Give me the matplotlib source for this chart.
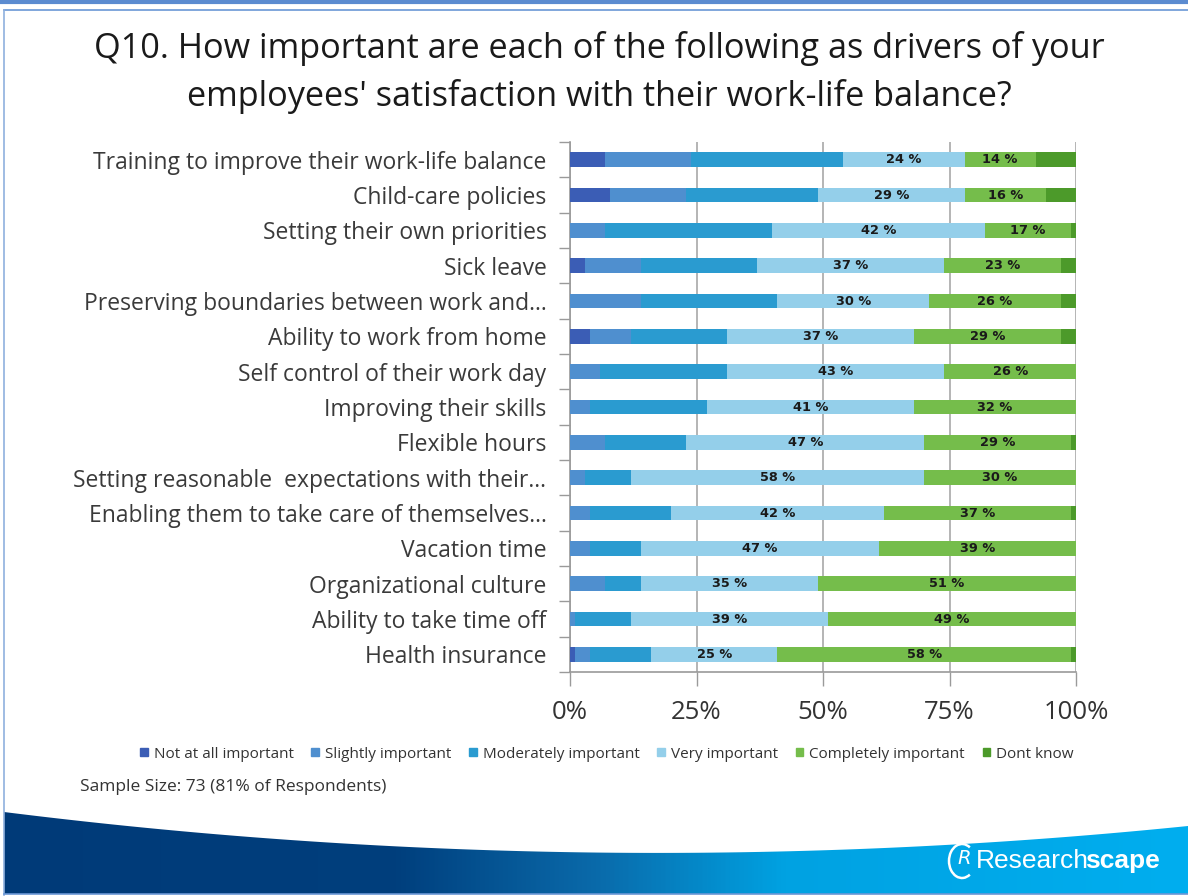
import numpy as np
import matplotlib
matplotlib.use("Agg")
import matplotlib.pyplot as plt
from matplotlib.patches import Polygon, Rectangle, Arc
from matplotlib.lines import Line2D
from matplotlib.colors import LinearSegmentedColormap

plt.rcParams['font.family'] = ['Open Sans', 'DejaVu Sans']

# ---- data -------------------------------------------------------------
categories = [
    "Training to improve their work-life balance",
    "Child-care policies",
    "Setting their own priorities",
    "Sick leave",
    "Preserving boundaries between work and\u2026",
    "Ability to work from home",
    "Self control of their work day",
    "Improving their skills",
    "Flexible hours",
    "Setting reasonable  expectations with their\u2026",
    "Enabling them to take care of themselves\u2026",
    "Vacation time",
    "Organizational culture",
    "Ability to take time off",
    "Health insurance",
]

series_names = ["Not at all important", "Slightly important", "Moderately important",
                "Very important", "Completely important", "Dont know"]

not_at_all  = [7, 8, 0, 3, 0, 4, 0, 0, 0, 0, 0, 0, 0, 0, 1]
slightly    = [17, 15, 7, 11, 14, 8, 6, 4, 7, 3, 4, 4, 7, 1, 3]
moderately  = [30, 26, 33, 23, 27, 19, 25, 23, 16, 9, 16, 10, 7, 11, 12]
very        = [24, 29, 42, 37, 30, 37, 43, 41, 47, 58, 42, 47, 35, 39, 25]
completely  = [14, 16, 17, 23, 26, 29, 26, 32, 29, 30, 37, 39, 51, 49, 58]
dont_know   = [8, 6, 1, 3, 3, 3, 0, 0, 1, 0, 1, 0, 0, 0, 1]

x_ticks = [0, 25, 50, 75, 100]
x_tick_labels = ["0%", "25%", "50%", "75%", "100%"]

colors = ["#3B5DB5", "#4F8FCF", "#2A9BD0", "#94CFEA", "#75BD4B", "#4C9A2A"]
labelled = [3, 4]  # series carrying value labels

W, H = 1188, 896
fig = plt.figure(figsize=(W / 100, H / 100), dpi=100)

# ---- slide decoration (background layer in pixel coordinates) ----------
bg = fig.add_axes([0, 0, 1, 1], zorder=0)
bg.set_xlim(0, W)
bg.set_ylim(H, 0)
bg.axis("off")

# bottom band with curved top edge and navy-to-cyan gradient
xs = np.linspace(4, W, 200)
# parabola through (4, 812), (560, 852), (1188, 826)
A = np.array([[4**2, 4, 1], [560**2, 560, 1], [1188**2, 1188, 1]], float)
coef = np.linalg.solve(A, np.array([812, 852, 826], float))
ys = coef[0] * xs**2 + coef[1] * xs + coef[2]
band_poly = np.vstack([np.column_stack([xs, ys]), [[W, 894], [4, 894]]])
cmap = LinearSegmentedColormap.from_list(
    "band", [(0, "#003A78"), (0.33, "#003F7D"), (0.5, "#0A6AAA"), (0.66, "#00A2E2"), (1, "#00AEEF")])
grad = np.linspace(0, 1, 512)[None, :]
im = bg.imshow(grad, cmap=cmap, extent=[4, W, 894, 800], aspect="auto", zorder=1)
clip = Polygon(band_poly, closed=True, transform=bg.transData, facecolor="none", edgecolor="none")
bg.add_patch(clip)
im.set_clip_path(clip)

# frame lines
bg.add_line(Line2D([0, W], [2.5, 2.5], color="#5B8BD0", lw=3, zorder=3))
bg.add_line(Line2D([4, W], [10, 10], color="#6A97D6", lw=1.2, zorder=3))
bg.add_line(Line2D([4, 4], [10, 895], color="#8FB0DE", lw=1.2, zorder=3))
bg.add_line(Line2D([4, W], [894.5, 894.5], color="#6A97D6", lw=1.2, zorder=3))

# logo
bg.add_patch(Arc((962, 861), 26, 34, theta1=60, theta2=300, color="white", lw=1.8, zorder=4))
bg.text(964, 859, "R", color="white", fontsize=14, ha="center", va="center",
        family="DejaVu Sans", style="italic", zorder=4)
t1 = bg.text(976, 861, "Research", color="white", fontsize=19, ha="left", va="center",
             family="Liberation Sans", zorder=4)
fig.canvas.draw()
bb = t1.get_window_extent()
x_end = bb.x1 - 4
bg.text(x_end, H - 861, "scape", color="white", fontsize=19, ha="left", va="center",
        family="Liberation Sans", weight="bold", transform=None, zorder=4)

# ---- title ------------------------------------------------------------
fig.text(599 / W, 1 - 49 / H, "Q10. How important are each of the following as drivers of your",
         ha="center", va="center", fontsize=24.7, color="#1a1a1a")
fig.text(599 / W, 1 - 97 / H, "employees' satisfaction with their work-life balance?",
         ha="center", va="center", fontsize=24.7, color="#1a1a1a")

# ---- chart ------------------------------------------------------------
ax_left, ax_right, ax_top, ax_bottom = 570, 1076, 142, 672
ax = fig.add_axes([ax_left / W, 1 - ax_bottom / H, (ax_right - ax_left) / W, (ax_bottom - ax_top) / H],
                  zorder=2)
ax.patch.set_alpha(0)

data = [not_at_all, slightly, moderately, very, completely, dont_know]
n = len(categories)
ypos = np.arange(n)
left = np.zeros(n)
for i, (vals, name, col) in enumerate(zip(data, series_names, colors)):
    vals = np.asarray(vals, float)
    ax.barh(ypos, vals, left=left, height=0.42, color=col, label=name, zorder=3)
    if i in labelled:
        for y, l, v in zip(ypos, left, vals):
            ax.text(l + v / 2, y, f"{int(v)} %", ha="center", va="center",
                    fontsize=9.3, weight="bold", color="#1a1a1a", zorder=4,
                    family=["DejaVu Sans Condensed", "DejaVu Sans"])
    left += vals

ax.set_xlim(0, 100)
ax.set_ylim(n - 0.5, -0.5)
ax.set_xticks(x_ticks)
ax.set_xticklabels(x_tick_labels, fontsize=18.5, color="#333333")
ax.tick_params(axis="x", length=10, width=1, color="#9a9a9a", pad=10)
ax.set_yticks(ypos)
ax.set_yticklabels(categories, fontsize=16.5, color="#3a3a3a")
ax.tick_params(axis="y", length=0, pad=17)
ax.set_yticks(np.arange(n + 1) - 0.5, minor=True)
ax.tick_params(axis="y", which="minor", length=8, width=1, color="#9a9a9a")
ax.xaxis.grid(True, color="#a8a8a8", lw=1.2, zorder=0)
for side in ["top", "right"]:
    ax.spines[side].set_visible(False)
for side in ["left", "bottom"]:
    ax.spines[side].set_color("#9a9a9a")
    ax.spines[side].set_linewidth(1.2)

# legend
handles = [Rectangle((0, 0), 1, 1, color=c) for c in colors]
fig.legend(handles, series_names, loc="center", bbox_to_anchor=(607 / W, 1 - 754 / H),
           ncol=6, frameon=False, fontsize=11, handlelength=0.5, handleheight=0.5,
           handletextpad=0.4, columnspacing=1.15, labelcolor="#333333")

fig.text(80 / W, 1 - 787 / H, "Sample Size: 73 (81% of Respondents)", ha="left", va="center",
         fontsize=12.5, color="#333333")

fig.savefig("out.png", dpi=100)
